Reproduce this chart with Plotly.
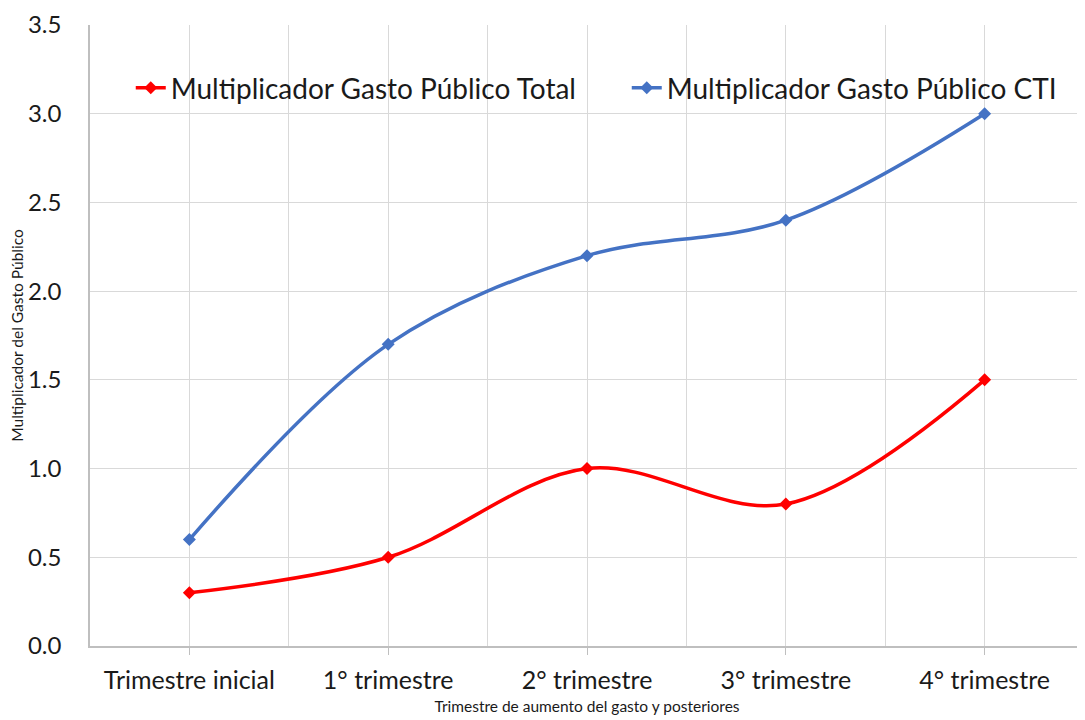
import plotly.graph_objects as go

categories = ["Trimestre inicial", "1° trimestre", "2° trimestre", "3° trimestre", "4° trimestre"]
total = [0.3, 0.5, 1.0, 0.8, 1.5]
cti = [0.6, 1.7, 2.2, 2.4, 3.0]
y_ticks = [0.0, 0.5, 1.0, 1.5, 2.0, 2.5, 3.0, 3.5]

xpos = list(range(len(categories)))
FONT = "Lato, Open Sans, sans-serif"

fig = go.Figure()
fig.add_trace(go.Scatter(
    x=xpos, y=total, mode="lines+markers", name="Multiplicador Gasto Público Total",
    line=dict(color="#FF0000", width=3.5, shape="spline", smoothing=1.0),
    marker=dict(symbol="diamond", size=10, color="#FF0000"),
    legend="legend", showlegend=True,
))
fig.add_trace(go.Scatter(
    x=xpos, y=cti, mode="lines+markers", name="Multiplicador Gasto Público CTI",
    line=dict(color="#4472C4", width=3.5, shape="spline", smoothing=1.0),
    marker=dict(symbol="diamond", size=10, color="#4472C4"),
    legend="legend2", showlegend=True,
))

leg_common = dict(
    orientation="h", yanchor="middle", xanchor="left",
    font=dict(size=28, family=FONT, color="#1a1a1a"),
    bgcolor="rgba(255,255,255,0)",
)

fig.update_layout(
    autosize=False,
    showlegend=True,
    width=1085, height=720,
    margin=dict(l=82, r=9, t=17, b=82),
    paper_bgcolor="white", plot_bgcolor="white",
    font=dict(family=FONT, color="#1a1a1a"),
    legend=dict(x=0.041, y=0.8986, **leg_common),
    legend2=dict(x=0.54, y=0.8986, **leg_common),
    xaxis=dict(
        range=[-0.5, 4.5], tickvals=xpos, ticktext=categories,
        showgrid=True, gridcolor="#D9D9D9", gridwidth=1,
        minor=dict(dtick=0.5, tick0=-0.5, showgrid=True, gridcolor="#D9D9D9", ticks=""),
        showline=True, linecolor="#BFBFBF", linewidth=1.5,
        ticks="outside", ticklen=7, tickcolor="#BFBFBF",
        ticklabelstandoff=4,
        tickfont=dict(size=25, family=FONT, color="#1a1a1a"),
        title=dict(text="Trimestre de aumento del gasto y posteriores",
                   font=dict(size=15.5, family=FONT, color="#1a1a1a"), standoff=8),
        zeroline=False, automargin=False,
    ),
    yaxis=dict(
        range=[0, 3.5], tickvals=y_ticks, ticktext=[f"{v:.1f}" for v in y_ticks],
        showgrid=True, gridcolor="#D9D9D9", gridwidth=1,
        showline=True, linecolor="#BFBFBF", linewidth=1.5,
        ticks="", ticklabelstandoff=22,
        tickfont=dict(size=24, family=FONT, color="#1a1a1a"),
        title=dict(text="Multiplicador del Gasto Público",
                   font=dict(size=15.5, family=FONT, color="#1a1a1a"), standoff=2),
        zeroline=False, automargin=False,
    ),
)

fig.write_html("out.html")
